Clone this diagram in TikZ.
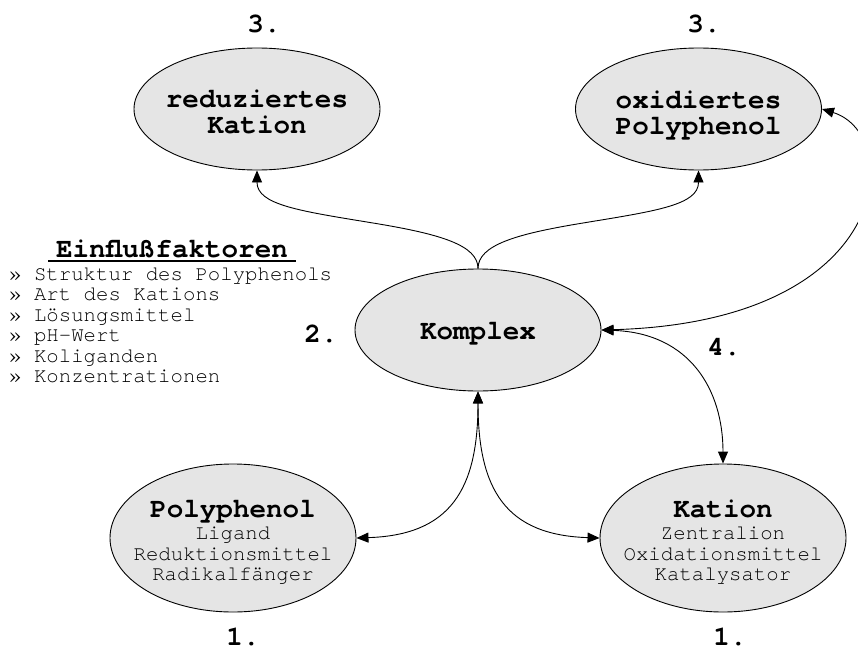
\documentclass[tikz,border=0pt]{standalone}
\usepackage{fontspec}
\setmainfont{TeX Gyre Cursor}
\usetikzlibrary{arrows.meta,shapes.geometric}
\definecolor{ellfill}{RGB}{229,229,229}
\newcommand\dgbig{\fontsize{27.6}{26}\selectfont\bfseries}
\newcommand\dgsmall{\fontsize{20.7}{20.5}\selectfont}
\begin{document}
\begin{tikzpicture}[x=1pt,y=-1pt,
  ell/.style={ellipse,draw=black,line width=0.9pt,fill=ellfill,inner sep=0pt,minimum width=246pt},
  ellA/.style={ell,minimum height=122pt},
  ellB/.style={ell,minimum height=148pt},
  bigtxt/.style={font=\dgbig,anchor=base,inner sep=0pt},
  smtxt/.style={font=\dgsmall,anchor=base,inner sep=0pt},
  tip/.tip={Triangle[length=12pt,width=10pt]},
  oneway/.style={-tip,line width=0.9pt},
  twoway/.style={tip-tip,line width=0.9pt}]
\useasboundingbox (0,0) rectangle (858,650);

% ellipses
\node[ellA] (red) at (257,109) {};
\node[ellA] (oxi) at (698.5,109) {};
\node[ellA] (komplex) at (478,330) {};
\node[ellB] (poly) at (233,538) {};
\node[ellB] (kation) at (723,538) {};

% ellipse texts
\node[bigtxt] (redt1) at (257,107) {reduziertes};
\node[bigtxt] (redt2) at (257,133) {Kation};
\node[bigtxt] (oxit1) at (698.5,108) {oxidiertes};
\node[bigtxt] (oxit2) at (698.5,134) {Polyphenol};
\node[bigtxt] (komt) at (478,339) {Komplex};
\node[bigtxt] (polyt1) at (233,517) {Polyphenol};
\node[smtxt] (polyt2) at (233,539) {Ligand};
\node[smtxt] (polyt3) at (233,560) {Reduktionsmittel};
\node[smtxt] (polyt4) at (233,580) {Radikalfänger};
\node[bigtxt] (katt1) at (723,517) {Kation};
\node[smtxt] (katt2) at (723,539) {Zentralion};
\node[smtxt] (katt3) at (723,560) {Oxidationsmittel};
\node[smtxt] (katt4) at (723,580) {Katalysator};

% step labels
\node[bigtxt] (n3a) at (264,33) {3.};
\node[bigtxt] (n3b) at (704,33) {3.};
\node[bigtxt] (n2) at (321,342) {2.};
\node[bigtxt] (n4) at (724,355) {4.};
\node[bigtxt] (n1a) at (243,645) {1.};
\node[bigtxt] (n1b) at (730,645) {1.};

% Einflussfaktoren
\node[bigtxt] (title) at (172,257) {Einflußfaktoren};
\draw[line width=1.8pt] (48,261) -- (296,261);
\node[anchor=base west,inner sep=0pt] (list) at (9,280) {\parbox[t]{330pt}{\dgsmall
» Struktur des Polyphenols\\
» Art des Kations\\
» Lösungsmittel\\
» pH-Wert\\
» Koliganden\\
» Konzentrationen}};

% connectors
\draw[oneway] (komplex.north) .. controls (478,245) and (440,234) .. (373,223)
  .. controls (300,211) and (257,205) .. (red.south);
\draw[oneway] (komplex.north) .. controls (478,245) and (516,234) .. (583,223)
  .. controls (656,211) and (698.5,205) .. (oxi.south);
\draw[twoway] (oxi.east) .. controls (905,135) and (895,322) .. (komplex.east);
\draw[twoway] (komplex.east) .. controls (690,333) and (723,390) .. (kation.north);
\draw[twoway] (komplex.south) .. controls (478,490) and (450,535) .. (poly.east);
\draw[twoway] (komplex.south) .. controls (478,490) and (506,535) .. (kation.west);
\end{tikzpicture}
\end{document}
